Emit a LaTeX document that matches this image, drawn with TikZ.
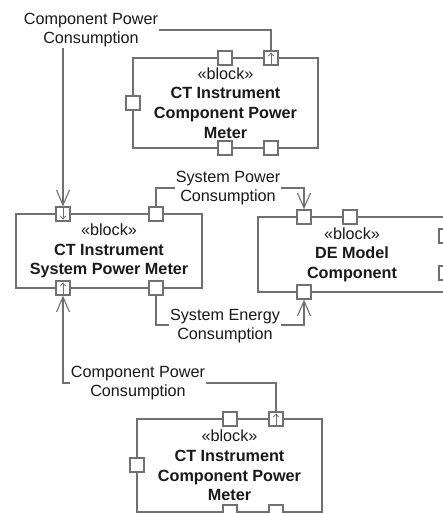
\documentclass[tikz,border=0pt]{standalone}
\usepackage{fontspec}
\setmainfont{Liberation Sans}
\usetikzlibrary{arrows.meta,calc}
\definecolor{ln}{RGB}{112,112,112}
\definecolor{tx}{RGB}{25,25,25}
\begin{document}
\begin{tikzpicture}[x=1pt,y=-1pt,
  txt/.style={font=\fontsize{16.2}{19.6}\selectfont,text=tx,align=center},
  blk/.style={draw=ln,line width=1.2pt,fill=white,inner sep=0pt,txt},
  port/.style={draw=ln,line width=1.2pt,fill=white,minimum size=14pt,inner sep=0pt},
  conn/.style={draw=ln,line width=1.2pt},
  bigtip/.style={-{Straight Barb[length=15pt,width=13pt,line width=1.1pt]}},
  smalltip/.style={draw=ln,line width=0.8pt,-{Straight Barb[length=3pt,width=5pt]}},
  lbl/.style={txt,fill=white,inner sep=1pt}]
\useasboundingbox (0,0) rectangle (443,513);
\clip (0,0) rectangle (443,513);
% blocks
\node[blk,minimum width=185pt,minimum height=90pt] (top) at (225.5,103)
  {«block»\\\textbf{CT Instrument}\\\textbf{Component Power}\\\textbf{Meter}};
\node[blk,minimum width=186pt,minimum height=74pt] (mid) at (109,251)
  {«block»\\\textbf{CT Instrument}\\\textbf{System Power Meter}};
\node[blk,minimum width=188pt,minimum height=75pt] (de) at (352,254.5)
  {«block»\\\textbf{DE Model}\\\textbf{Component}};
\node[blk,minimum width=185pt,minimum height=93pt] (bot) at (229.5,465.5)
  {«block»\\\textbf{CT Instrument}\\\textbf{Component Power}\\\textbf{Meter}};
% ports
\node[port] (tp1) at (225,58) {};
\node[port] (tp2) at (271,58) {};
\node[port] (tp3) at (133,103) {};
\node[port] (tp4) at (225,148) {};
\node[port] (tp5) at (271,148) {};
\node[port] (mp1) at (63,214) {};
\node[port] (mp2) at (156,214) {};
\node[port] (mp3) at (63,288) {};
\node[port] (mp4) at (156,288) {};
\node[port] (rp1) at (304,217) {};
\node[port] (rp2) at (350,217) {};
\node[port] (rp3) at (304,292) {};
\node[port] (rp4) at (446,236) {};
\node[port] (rp5) at (446,273) {};
\node[port] (bp1) at (230,419) {};
\node[port] (bp2) at (276,419) {};
\node[port] (bp3) at (137,465) {};
\node[port] (bp4) at (230,512) {};
\node[port] (bp5) at (276,512) {};
% direction marks inside ports
\draw[smalltip] ($(mp1.north)+(0,2)$) -- ($(mp1.south)+(0,-2)$);
\draw[smalltip] ($(mp3.south)+(0,-2)$) -- ($(mp3.north)+(0,2)$);
\draw[smalltip] ($(tp2.south)+(0,-2)$) -- ($(tp2.north)+(0,2)$);
\draw[smalltip] ($(bp2.south)+(0,-2)$) -- ($(bp2.north)+(0,2)$);
% connectors
\coordinate (k1) at (63,30);
\coordinate (k2) at (228,188);
\coordinate (k3) at (225,325);
\coordinate (k4) at (138,383);
\draw[conn,bigtip] (tp2.north) |- (k1) -- (mp1.north);
\draw[conn,bigtip] (mp2.north) |- (k2) -| (rp1.north);
\draw[conn,bigtip] (mp4.south) |- (k3) -| (rp3.south);
\draw[conn,bigtip] (bp2.north) |- (k4) -| (mp3.south);
% labels
\node[lbl] (l1) at (91,30) {Component Power\\Consumption};
\node[lbl] (l2) at (228,188) {System Power\\Consumption};
\node[lbl] (l3) at (225,326) {System Energy\\Consumption};
\node[lbl] (l4) at (138,383) {Component Power\\Consumption};
\end{tikzpicture}
\end{document}
